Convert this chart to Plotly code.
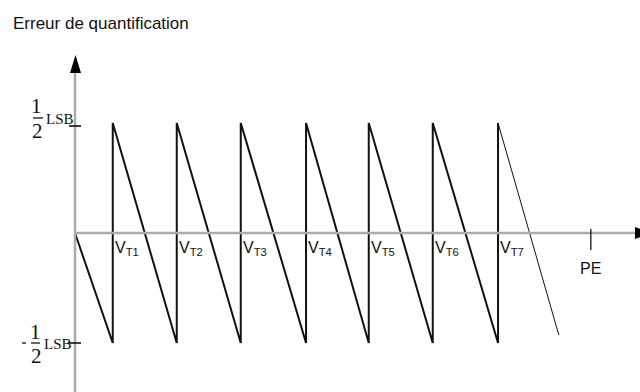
import plotly.graph_objects as go

# Quantization error of an ideal ADC, in LSB units
title_text = "Erreur de quantification"
thresholds = [0.59, 1.59, 2.59, 3.61, 4.59, 5.59, 6.61]      # V_T1 ... V_T7
threshold_names = ["T1", "T2", "T3", "T4", "T5", "T6", "T7"]
half_lsb = 0.5
tail_x = [6.61, 7.56]          # last ramp, drawn thin past V_T7
tail_y = [0.5, -0.464]
pe_x = 8.06                    # full scale (PE)

W, H = 640, 392
X0, SX = 75, 64.0              # pixel of origin, pixels per LSB (x)
Y0, SY = 233, 220.0            # pixel of zero error, pixels per LSB (y)


def dx(p):
    return (p - X0) / SX


def dy(p):
    return (Y0 - p) / SY


# sawtooth: ramp down from 0, jump up at each threshold
saw_x = [0.0]
saw_y = [0.0]
for vt in thresholds:
    saw_x += [vt, vt]
    saw_y += [-half_lsb, half_lsb]

fig = go.Figure()
fig.add_trace(go.Scatter(x=saw_x, y=saw_y, mode="lines",
                         line=dict(color="#111111", width=2), hoverinfo="skip"))
fig.add_trace(go.Scatter(x=tail_x, y=tail_y, mode="lines",
                         line=dict(color="#111111", width=1), hoverinfo="skip"))

axis_grey = "#ababab"
shapes = [
    # axes
    dict(type="line", x0=0, y0=0, x1=dx(636), y1=0, line=dict(color=axis_grey, width=2.5)),
    dict(type="line", x0=0, y0=dy(H + 5), x1=0, y1=dy(72), line=dict(color=axis_grey, width=2.5)),
    # arrowheads
    dict(type="path", path=f"M {dx(70)},{dy(73)} L {dx(81)},{dy(73)} L {dx(75.5)},{dy(55)} Z",
         fillcolor="black", line=dict(width=0)),
    dict(type="path", path=f"M {dx(635)},{dy(227)} L {dx(635)},{dy(239)} L {dx(652)},{dy(233)} Z",
         fillcolor="black", line=dict(width=0)),
    # +/- 1/2 LSB ticks
    dict(type="line", x0=dx(69), y0=dy(126), x1=dx(81), y1=dy(126), line=dict(color="black", width=1.5)),
    dict(type="line", x0=dx(68), y0=dy(343), x1=dx(81), y1=dy(343), line=dict(color="black", width=1.5)),
    # PE tick
    dict(type="line", x0=pe_x, y0=dy(229), x1=pe_x, y1=dy(250), line=dict(color="black", width=1.2)),
    # fraction bars
    dict(type="line", x0=dx(33), y0=dy(118), x1=dx(43), y1=dy(118), line=dict(color="black", width=1.2)),
    dict(type="line", x0=dx(31), y0=dy(343), x1=dx(40), y1=dy(343), line=dict(color="black", width=1.2)),
    dict(type="line", x0=dx(22), y0=dy(343), x1=dx(26), y1=dy(343), line=dict(color="black", width=1.2)),
]

sans = "Liberation Sans, Arial, sans-serif"
serif = "Liberation Serif, Times New Roman, serif"

annotations = [
    dict(x=dx(11), y=dy(23), text=title_text, xanchor="left", yanchor="middle",
         font=dict(family=sans, size=17, color="#111111")),
    # +1/2 LSB
    dict(x=dx(36), y=dy(106), text="1", xanchor="center", yanchor="middle",
         font=dict(family=serif, size=21, color="#111111")),
    dict(x=dx(37.5), y=dy(131), text="2", xanchor="center", yanchor="middle",
         font=dict(family=serif, size=21, color="#111111")),
    dict(x=dx(44), y=dy(119), text="LSB", xanchor="left", yanchor="middle",
         font=dict(family=serif, size=15, color="#111111")),
    # -1/2 LSB
    dict(x=dx(35), y=dy(332), text="1", xanchor="center", yanchor="middle",
         font=dict(family=serif, size=21, color="#111111")),
    dict(x=dx(36), y=dy(356), text="2", xanchor="center", yanchor="middle",
         font=dict(family=serif, size=21, color="#111111")),
    dict(x=dx(42), y=dy(344), text="LSB", xanchor="left", yanchor="middle",
         font=dict(family=serif, size=15, color="#111111")),
    # PE
    dict(x=pe_x, y=dy(268), text="PE", xanchor="center", yanchor="middle",
         font=dict(family=sans, size=16, color="#111111")),
]
for vt, name in zip(thresholds, threshold_names):
    annotations.append(dict(x=vt, y=0, text=f"V<sub>{name}</sub>", xanchor="left",
                            yanchor="top", xshift=0, yshift=-4, showarrow=False,
                            font=dict(family=sans, size=16, color="#111111")))
for a in annotations:
    a.setdefault("showarrow", False)

fig.update_layout(
    width=W, height=H, margin=dict(l=0, r=0, t=0, b=0),
    paper_bgcolor="white", plot_bgcolor="white", showlegend=False,
    xaxis=dict(range=[dx(0), dx(W)], visible=False, fixedrange=True),
    yaxis=dict(range=[dy(H), dy(0)], visible=False, fixedrange=True),
    shapes=shapes, annotations=annotations,
)
fig.write_html("out.html", config={"displayModeBar": False})
